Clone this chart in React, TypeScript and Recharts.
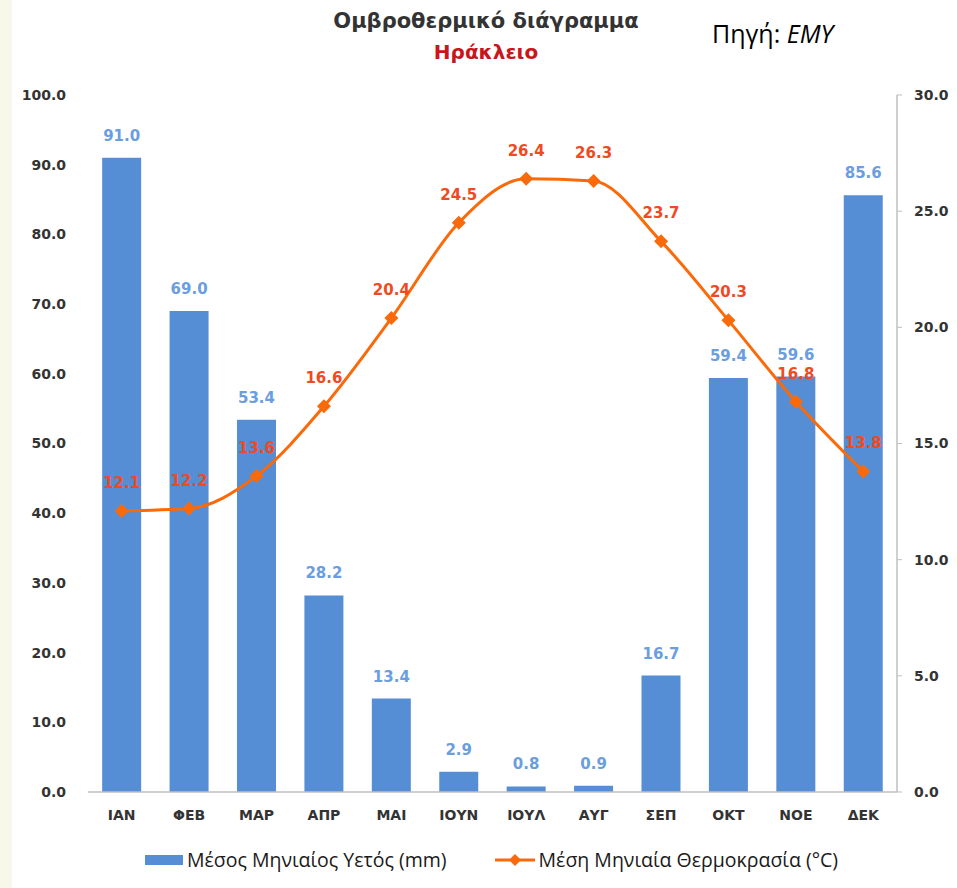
import React from "react";
import {
  ComposedChart,
  Bar,
  Line,
  XAxis,
  YAxis,
  Legend,
  LabelList,
} from "recharts";

const months = ["ΙΑΝ", "ΦΕΒ", "ΜΑΡ", "ΑΠΡ", "ΜΑΙ", "ΙΟΥΝ", "ΙΟΥΛ", "ΑΥΓ", "ΣΕΠ", "ΟΚΤ", "ΝΟΕ", "ΔΕΚ"];
const rainfall = [91.0, 69.0, 53.4, 28.2, 13.4, 2.9, 0.8, 0.9, 16.7, 59.4, 59.6, 85.6];
const temperature = [12.1, 12.2, 13.6, 16.6, 20.4, 24.5, 26.4, 26.3, 23.7, 20.3, 16.8, 13.8];
const rainTicks = [0, 10, 20, 30, 40, 50, 60, 70, 80, 90, 100];
const tempTicks = [0, 5, 10, 15, 20, 25, 30];

const RAIN_NAME = "Μέσος Μηνιαίος Υετός (mm)";
const TEMP_NAME = "Μέση Μηνιαία Θερμοκρασία (°C)";

const BAR_COLOR = "#558ed5";
const LINE_COLOR = "#fa6a0a";
const TICK_FONT = "'DejaVu Sans', Verdana, sans-serif";
const TEXT_FONT = "'Open Sans', 'Noto Sans', sans-serif";

const data = months.map((m, i) => ({
  month: m,
  rain: rainfall[i],
  temp: temperature[i],
}));

const fmt = (v: number) => Number(v).toFixed(1);

const Diamond = (props: any) => {
  const { cx, cy } = props;
  if (cx == null || cy == null) return null;
  const r = 7;
  return (
    <polygon
      points={`${cx},${cy - r} ${cx + r},${cy} ${cx},${cy + r} ${cx - r},${cy}`}
      fill={LINE_COLOR}
    />
  );
};

const LegendContent = () => (
  <div
    style={{
      display: "flex",
      justifyContent: "center",
      alignItems: "center",
      fontFamily: TEXT_FONT,
      fontSize: 19.5,
      color: "#1a1a1a",
      paddingTop: 14,
      marginLeft: 26,
    }}
  >
    <div style={{ display: "flex", alignItems: "center", marginRight: 48 }}>
      <div style={{ width: 38, height: 10, background: BAR_COLOR, marginRight: 4 }} />
      <span>{RAIN_NAME}</span>
    </div>
    <div style={{ display: "flex", alignItems: "center" }}>
      <svg width={40} height={14} style={{ marginRight: 4 }}>
        <line x1={0} y1={7} x2={40} y2={7} stroke={LINE_COLOR} strokeWidth={3} />
        <polygon points="20,1 26,7 20,13 14,7" fill={LINE_COLOR} />
      </svg>
      <span>{TEMP_NAME}</span>
    </div>
  </div>
);

export default function App() {
  return (
    <div
      style={{
        position: "absolute",
        left: 0,
        top: 0,
        width: 957,
        height: 888,
        background: "#ffffff",
        overflow: "hidden",
      }}
    >
      <div
        style={{
          position: "absolute",
          left: 0,
          top: 0,
          width: 12,
          height: 888,
          background: "#f7f8ea",
        }}
      />
      <div
        style={{
          position: "absolute",
          left: 0,
          width: 972,
          top: 9,
          textAlign: "center",
          fontFamily: TICK_FONT,
          fontWeight: "bold",
          fontSize: 21,
          color: "#333333",
        }}
      >
        Ομβροθερμικό διάγραμμα
      </div>
      <div
        style={{
          position: "absolute",
          left: 0,
          width: 972,
          top: 40,
          textAlign: "center",
          fontFamily: TICK_FONT,
          fontWeight: "bold",
          fontSize: 20,
          color: "#c8161d",
        }}
      >
        Ηράκλειο
      </div>
      <div
        style={{
          position: "absolute",
          left: 712,
          top: 16,
          fontFamily: TEXT_FONT,
          fontSize: 25,
          color: "#000000",
        }}
      >
        Πηγή: <i>EMY</i>
      </div>
      <ComposedChart
        width={957}
        height={888}
        data={data}
        margin={{ top: 95, right: 0, bottom: 0, left: 0 }}
        barCategoryGap="21%"
        style={{ position: "absolute", left: 0, top: 0 }}
      >
        <XAxis
          dataKey="month"
          tickLine={false}
          axisLine={{ stroke: "#bfbfbf", strokeWidth: 1.5 }}
          tick={{ fill: "#333333", fontSize: 14, fontWeight: "bold", fontFamily: TICK_FONT }}
          tickMargin={12}
          height={40}
        />
        <YAxis
          yAxisId="rain"
          domain={[0, 100]}
          ticks={rainTicks}
          tickFormatter={fmt}
          axisLine={false}
          tickLine={false}
          width={88}
          tickMargin={16}
          tick={{ fill: "#333333", fontSize: 14, fontWeight: "bold", fontFamily: TICK_FONT }}
        />
        <YAxis
          yAxisId="temp"
          orientation="right"
          domain={[0, 30]}
          ticks={tempTicks}
          tickFormatter={fmt}
          axisLine={{ stroke: "#bfbfbf", strokeWidth: 1.5 }}
          tickLine={{ stroke: "#bfbfbf" }}
          tickSize={5}
          tickMargin={12}
          width={60}
          tick={{ fill: "#333333", fontSize: 14, fontWeight: "bold", fontFamily: TICK_FONT, textAnchor: "start" }}
        />
        <Legend verticalAlign="bottom" height={56} content={<LegendContent />} />
        <Bar
          yAxisId="rain"
          dataKey="rain"
          name={RAIN_NAME}
          fill={BAR_COLOR}
          isAnimationActive={false}
        >
          <LabelList
            dataKey="rain"
            position="top"
            offset={17}
            formatter={(v: any) => fmt(v)}
            style={{ fill: "#6a9ee0", fontSize: 15, fontWeight: "bold", fontFamily: TICK_FONT }}
          />
        </Bar>
        <Line
          yAxisId="temp"
          dataKey="temp"
          name={TEMP_NAME}
          type="monotone"
          stroke={LINE_COLOR}
          strokeWidth={3}
          dot={<Diamond />}
          activeDot={false}
          isAnimationActive={false}
        >
          <LabelList
            dataKey="temp"
            position="top"
            offset={23}
            formatter={(v: any) => fmt(v)}
            style={{ fill: "#f04a22", fontSize: 15, fontWeight: "bold", fontFamily: TICK_FONT }}
          />
        </Line>
      </ComposedChart>
    </div>
  );
}
